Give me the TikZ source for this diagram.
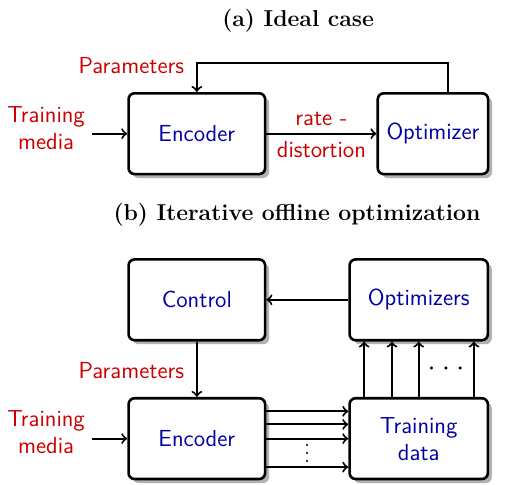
\documentclass[tikz,border=0pt]{standalone}
\usetikzlibrary{shadows}
\tikzset{
  blk/.style={draw, line width=1.3pt, rounded corners=3pt, fill=white, minimum height=1.42cm,
    font=\sffamily\fontsize{11.6}{13.5}\selectfont, text=blue!65!black, align=center,
    drop shadow={shadow xshift=2pt, shadow yshift=-2pt, fill=black!30, opacity=1}},
  lbl/.style={font=\sffamily\fontsize{11.6}{13.5}\selectfont, text=red!80!black, align=center},
  ttl/.style={font=\bfseries\fontsize{11.5}{13.5}\selectfont},
  conn/.style={line width=1pt, ->},
}
\begin{document}
\begin{tikzpicture}
\useasboundingbox (0,0) rectangle (9.07,8.51);

% (a) ideal case
\node[ttl] (titlea) at (5.24,8.15) {(a) Ideal case};
\node[blk, minimum width=2.4cm] (enca) at (3.46,6.16) {Encoder};
\node[blk, minimum width=1.94cm] (opta) at (7.61,6.16) {Optimizer};

\node[lbl, anchor=east] (para) at (3.36,7.35) {Parameters};
\coordinate (fb) at (3.46,7.40);
\draw[conn] ([xshift=0.26cm]opta.north) |- (fb) -- (enca.north);

\node[lbl] (meda) at (0.81,6.26) {Training\\media};
\draw[conn] (meda.east |- enca.west) -- (enca.west);

\draw[conn] (enca.east) -- node[lbl, above] (rate) {rate -} node[lbl, below] (dist) {distortion} (opta.west);

% (b) iterative offline optimization
\node[ttl] (titleb) at (5.22,4.73) {(b) Iterative offline optimization};
\node[blk, minimum width=2.4cm] (ctrl) at (3.46,3.24) {Control};
\node[blk, minimum width=2.43cm] (opts) at (7.36,3.24) {Optimizers};
\node[blk, minimum width=2.4cm] (encb) at (3.46,0.80) {Encoder};
\node[blk, minimum width=2.43cm] (data) at (7.36,0.80) {Training\\data};

\draw[conn] (opts) -- (ctrl);
\draw[conn] (ctrl) -- (encb);
\node[lbl, anchor=east] (parb) at (3.36,2.00) {Parameters};

\node[lbl] (medb) at (0.81,0.91) {Training\\media};
\draw[conn] (medb.east |- encb.west) -- (encb.west);

\foreach \y in {0.48,0.25,0,-0.50}{
	\draw[conn] ([yshift=\y cm]encb.east) -- ([yshift=\y cm]data.west);
}
\node[font=\boldmath] (vdots) at (5.40,0.64) {$\vdots$};

\foreach \x in {-0.96,-0.47,0,0.97}{
	\draw[conn] ([xshift=\x cm]data.north) -- ([xshift=\x cm]opts.south);
}
\node[font=\boldmath] (hdots) at (7.84,2.02) {$\cdot$\hspace{4pt}$\cdot$\hspace{4pt}$\cdot$};
\end{tikzpicture}
\end{document}
